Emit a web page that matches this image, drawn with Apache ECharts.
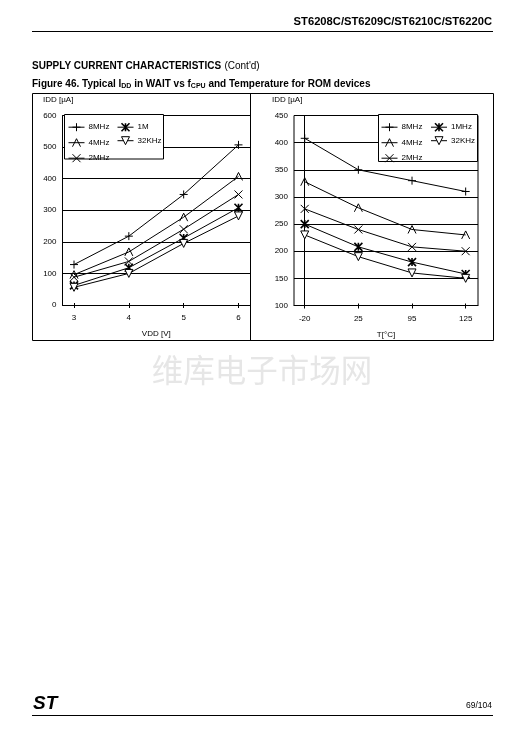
<!DOCTYPE html>
<html><head><meta charset="utf-8">
<script src="https://cdn.jsdelivr.net/npm/echarts@6/dist/echarts.min.js"></script>
<style>html,body{margin:0;padding:0;background:#fff}#c{width:524px;height:744px}</style>
</head><body><div id="c"></div>
<script>
// ---- data ----
const vddTicks = [3, 4, 5, 6];
const vddNames = ['8MHz', '4MHz', '2MHz', '1M', '32KHz'];
const vdd_8MHz = [128, 218, 350, 507];
const vdd_4MHz = [96, 168, 278, 407];
const vdd_2MHz = [88, 138, 240, 350];
const vdd_1M = [62, 118, 212, 308];
const vdd_32KHz = [56, 100, 195, 282];

const tempLabels = ['-20', '25', '95', '125'];
const tempNames = ['8MHz', '4MHz', '2MHz', '1MHz', '32KHz'];
const t_8MHz = [408, 350, 330, 310];
const t_4MHz = [328, 280, 240, 230];
const t_2MHz = [278, 240, 208, 200];
const t_1MHz = [250, 208, 180, 158];
const t_32KHz = [230, 190, 160, 150];

const vddYTicks = {min: 0, max: 600, step: 100};
const tempYTicks = {min: 100, max: 450, step: 50};

// ---- styles ----
const FONT = 'Liberation Sans, Arial, sans-serif';
const symbols = [
  'path://M5,0L5,10M0,5L10,5',
  'path://M0,10L5,0L10,10',
  'path://M0,0L10,10M10,0L0,10',
  'path://M0,0L10,10M10,0L0,10M5,0L5,10',
  'path://M0,0L10,0L5,9Z'
];
const symFill = ['none', 'none', 'none', 'none', '#fff'];
const symWidth = [1, 1, 1, 1.6, 1];

function mkSeries(name, xs, ys, idx, axisIdx) {
  return {
    type: 'line', name: name,
    xAxisIndex: axisIdx, yAxisIndex: axisIdx,
    data: ys.map((v, i) => [xs[i], v]),
    symbol: symbols[idx], symbolSize: 8,
    showAllSymbol: true,
    lineStyle: {color: '#000', width: 1},
    itemStyle: {color: symFill[idx], borderColor: '#000', borderWidth: symWidth[idx]},
    emphasis: {disabled: true},
    animation: false, z: 2
  };
}

const leftSets = [vdd_8MHz, vdd_4MHz, vdd_2MHz, vdd_1M, vdd_32KHz];
const rightSets = [t_8MHz, t_4MHz, t_2MHz, t_1MHz, t_32KHz];
const idxs = tempLabels.map((_, i) => i);

const series = [];
leftSets.forEach((d, i) => series.push(mkSeries(vddNames[i], vddTicks, d, i, 0)));
rightSets.forEach((d, i) => series.push(mkSeries(tempNames[i], idxs, d, i, 1)));

const axLabel = {fontSize: 8, color: '#000', fontFamily: FONT};
function yAxis(gi, t) {
  return {
    type: 'value', gridIndex: gi, min: t.min, max: t.max, interval: t.step, position: 'left',
    axisLine: {show: true, lineStyle: {color: '#000', width: 1}},
    axisTick: {show: false},
    axisLabel: Object.assign({margin: 6}, axLabel),
    splitLine: {show: true, lineStyle: {color: '#000', width: 1}}
  };
}
function xAxis(gi, min, max, vals, fmt, name, inside) {
  return {
    type: 'value', gridIndex: gi, min: min, max: max, position: 'bottom',
    name: inside ? '' : name, nameLocation: 'middle', nameGap: 25,
    nameTextStyle: {fontSize: 8, color: '#000', fontFamily: FONT},
    axisLine: {show: !inside, onZero: false, lineStyle: {color: '#000', width: 1}},
    axisTick: {show: true, inside: inside, length: inside ? 2 : 3, customValues: vals, lineStyle: {color: '#000'}},
    axisLabel: Object.assign({show: !inside, margin: 9, customValues: vals, formatter: fmt}, axLabel),
    splitLine: {show: false}
  };
}

function legData(names, from) {
  return names.map((n, i) => ({
    name: n,
    itemStyle: {color: symFill[from + i], borderColor: '#000', borderWidth: symWidth[from + i]},
    lineStyle: {color: '#000', width: 1}
  }));
}
const legBase = {
  orient: 'vertical', itemWidth: 16, itemHeight: 10, itemGap: 2.5, padding: 0,
  selectedMode: false,
  lineStyle: {color: '#000', width: 1},
  textStyle: {fontSize: 8, color: '#000', fontFamily: FONT, padding: [0, 0, 0, -1]}
};

const txt = (x, y, text, o) => ({type: 'text', x: x, y: y, silent: true,
  style: Object.assign({text: text, fill: '#000', font: '8px ' + FONT, textVerticalAlign: 'middle'}, o || {})});

const fmtVdd = v => String(v);
const fmtTemp = v => tempLabels[Math.round(v)];

const option = {
  animation: false,
  grid: [
    {left: 62.5, top: 115.5, width: 187.5, height: 189.5, show: false},
    {left: 294, top: 115.5, width: 184, height: 190, show: true, borderColor: '#000', borderWidth: 1, backgroundColor: 'transparent'}
  ],
  xAxis: [
    xAxis(0, 2.79, 6.21, vddTicks, fmtVdd, 'VDD [V]', false),
    xAxis(1, -0.2, 3.23, idxs, fmtTemp, 'T[°C]', false),
    xAxis(0, 2.79, 6.21, vddTicks, fmtVdd, '', true),
    xAxis(1, -0.2, 3.23, idxs, fmtTemp, '', true)
  ],
  yAxis: [yAxis(0, vddYTicks), yAxis(1, tempYTicks)],
  legend: [
    Object.assign({}, legBase, {left: 68, top: 120.7, data: legData(vddNames.slice(0, 3), 0)}),
    Object.assign({}, legBase, {left: 117, top: 120.7, data: legData(vddNames.slice(3), 3)}),
    Object.assign({}, legBase, {left: 381, top: 120.7, data: legData(tempNames.slice(0, 3), 0)}),
    Object.assign({}, legBase, {left: 430.5, top: 120.7, data: legData(tempNames.slice(3), 3)})
  ],
  series: series,
  graphic: [
    txt(492, 22, 'ST6208C/ST6209C/ST6210C/ST6220C', {font: 'bold 11.2px ' + FONT, textAlign: 'right'}),
    {type: 'line', silent: true, shape: {x1: 32, y1: 31.5, x2: 493, y2: 31.5}, style: {stroke: '#000', lineWidth: 1}},
    {type: 'text', x: 32, y: 66, silent: true, style: {
      text: '{b|SUPPLY CURRENT CHARACTERISTICS} {n|(Cont\'d)}', textVerticalAlign: 'middle',
      rich: {b: {font: 'bold 10px ' + FONT, fill: '#000'}, n: {font: '10px ' + FONT, fill: '#000'}}}},
    {type: 'text', x: 32, y: 84, silent: true, style: {
      text: '{b|Figure 46. Typical I}{s|DD}{b| in WAIT vs f}{s|CPU}{b| and Temperature for ROM devices}', textVerticalAlign: 'middle',
      rich: {b: {font: 'bold 10px ' + FONT, fill: '#000', lineHeight: 13}, s: {font: 'bold 7px ' + FONT, fill: '#000', lineHeight: 13, padding: [5, 0, 0, 0]}}}},
    {type: 'rect', silent: true, shape: {x: 32.5, y: 93.5, width: 461, height: 247}, style: {fill: 'none', stroke: '#000', lineWidth: 1}},
    {type: 'line', silent: true, shape: {x1: 250.5, y1: 93.5, x2: 250.5, y2: 340.5}, style: {stroke: '#000', lineWidth: 1}},
    txt(43, 99.5, 'IDD [µA]'),
    txt(272, 99.5, 'IDD [µA]'),
    {type: 'rect', silent: true, z: 3, shape: {x: 64.5, y: 114.5, width: 99, height: 44.5}, style: {fill: '#fff', stroke: '#000', lineWidth: 1}},
    {type: 'rect', silent: true, z: 3, shape: {x: 378.5, y: 114.5, width: 99, height: 47}, style: {fill: '#fff', stroke: '#000', lineWidth: 1}},
    txt(262, 370, '维库电子市场网', {font: '31.5px "Noto Sans CJK SC", sans-serif', fill: '#e6e6e6', textAlign: 'center'}),
    txt(33, 704, 'ST', {font: 'italic bold 19px ' + FONT, textAlign: 'left'}),
    txt(492, 706, '69/104', {font: '8.5px ' + FONT, textAlign: 'right'}),
    {type: 'line', silent: true, shape: {x1: 32, y1: 715.5, x2: 493, y2: 715.5}, style: {stroke: '#000', lineWidth: 1}}
  ]
};

const chart = echarts.init(document.getElementById('c'), null, {renderer: 'canvas'});
chart.setOption(option);
</script></body></html>
